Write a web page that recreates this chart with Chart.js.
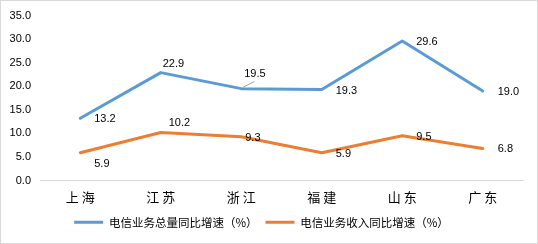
<!DOCTYPE html>
<html>
<head>
<meta charset="utf-8">
<script src="https://cdn.jsdelivr.net/npm/chart.js@4.4.1/dist/chart.umd.min.js"></script>
<style>
  html, body { margin: 0; padding: 0; background: #fff; }
  #wrap { width: 538px; height: 244px; }
</style>
</head>
<body>
<div id="wrap"><canvas id="myChart" width="538" height="244"></canvas></div>
<script>
// 数据
const provinces = ['上 海', '江 苏', '浙 江', '福 建', '山 东', '广 东'];
const volumeGrowth = [13.2, 22.9, 19.5, 19.3, 29.6, 19.0];
const revenueGrowth = [5.9, 10.2, 9.3, 5.9, 9.5, 6.8];
const seriesNames = ['电信业务总量同比增速（%）', '电信业务收入同比增速（%）'];
const yTicks = [0, 5, 10, 15, 20, 25, 30, 35];

const BLUE = '#5B9BD5';
const ORANGE = '#ED7D31';
const NUM_FONT = '11px "Liberation Sans", Arial, sans-serif';

// 标签偏移 (相对于点的位置)
const labelOffsets = [
  [[14, 0], [2, -10], [3, -16], [14, 0], [14, 0], [15, 0]],
  [[14, 10], [8, -10], [4, 0], [14, 0], [14, 0], [15, 0]]
];

const dataLabelPlugin = {
  id: 'dataLabels',
  afterDatasetsDraw(chart) {
    const ctx = chart.ctx;
    ctx.save();
    ctx.font = NUM_FONT;
    ctx.fillStyle = '#000';
    ctx.textAlign = 'left';
    ctx.textBaseline = 'middle';
    chart.data.datasets.forEach((ds, di) => {
      const meta = chart.getDatasetMeta(di);
      meta.data.forEach((pt, i) => {
        const [dx, dy] = labelOffsets[di][i];
        const tx = pt.x + dx, ty = pt.y + dy;
        // 引导线
        if (dy < -12) {
          ctx.strokeStyle = '#A6A6A6';
          ctx.lineWidth = 1;
          ctx.beginPath();
          ctx.moveTo(pt.x + 1, pt.y - 1);
          ctx.lineTo(tx + 10, ty + 9);
          ctx.stroke();
        }
        ctx.fillText(ds.data[i].toFixed(1), tx, ty + 1);
      });
    });
    ctx.restore();
  },
  afterDraw(chart) {
    // 外框
    const ctx = chart.ctx;
    ctx.save();
    ctx.strokeStyle = '#D9D9D9';
    ctx.lineWidth = 1;
    ctx.strokeRect(0.5, 0.5, chart.width - 1, chart.height - 1);
    ctx.restore();
  }
};

const ctx = document.getElementById('myChart').getContext('2d');
new Chart(ctx, {
  type: 'line',
  data: {
    labels: provinces,
    datasets: [
      {
        label: seriesNames[0],
        data: volumeGrowth,
        borderColor: BLUE,
        backgroundColor: BLUE,
        borderWidth: 3,
        pointRadius: 0,
        tension: 0,
        borderJoinStyle: 'round',
        borderCapStyle: 'round'
      },
      {
        label: seriesNames[1],
        data: revenueGrowth,
        borderColor: ORANGE,
        backgroundColor: ORANGE,
        borderWidth: 3,
        pointRadius: 0,
        tension: 0,
        borderJoinStyle: 'round',
        borderCapStyle: 'round'
      }
    ]
  },
  options: {
    responsive: false,
    animation: false,
    devicePixelRatio: 1,
    layout: {
      padding: { left: 0, right: 15, top: 15, bottom: 6 }
    },
    plugins: {
      tooltip: { enabled: false },
      legend: {
        position: 'bottom',
        labels: {
          boxWidth: 29,
          boxHeight: 3,
          padding: 8,
          color: '#262626',
          font: { family: '"Noto Sans CJK SC", sans-serif', size: 11.5 },
          generateLabels(chart) {
            return chart.data.datasets.map((ds, i) => ({
              text: ds.label,
              fillStyle: ds.borderColor,
              strokeStyle: ds.borderColor,
              lineWidth: 0,
              hidden: false,
              datasetIndex: i
            }));
          }
        }
      }
    },
    scales: {
      x: {
        offset: true,
        grid: { display: false, drawTicks: false },
        border: { display: true, color: '#D9D9D9', width: 1 },
        ticks: {
          padding: 9,
          color: '#000',
          maxRotation: 0,
          font: { family: '"Noto Sans CJK SC", sans-serif', size: 13 }
        },
        afterFit(scale) { scale.height = 28; }
      },
      y: {
        min: 0,
        max: 35,
        afterBuildTicks(scale) {
          scale.ticks = yTicks.map(v => ({ value: v }));
        },
        grid: { display: false, drawTicks: false },
        border: { display: false },
        ticks: {
          padding: 9,
          color: '#000',
          font: { family: '"Liberation Sans", Arial, sans-serif', size: 11 },
          callback: v => Number(v).toFixed(1)
        },
        afterFit(scale) { scale.width = 40; }
      }
    }
  },
  plugins: [dataLabelPlugin]
});
</script>
</body>
</html>
